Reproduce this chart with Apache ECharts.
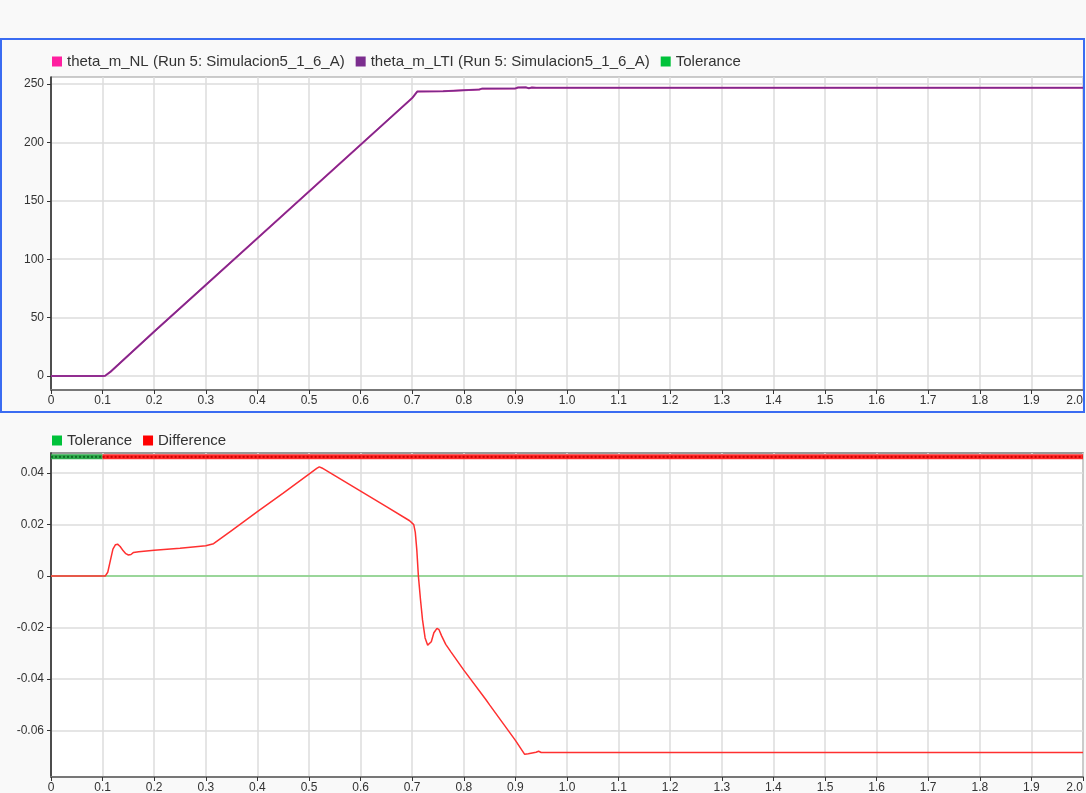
<!DOCTYPE html>
<html>
<head>
<meta charset="utf-8">
<script src="https://cdn.jsdelivr.net/npm/echarts@6/dist/echarts.min.js"></script>
<style>
  html, body { margin: 0; padding: 0; background: #f9f9f9; }
  #chart { width: 1086px; height: 793px; }
</style>
</head>
<body>
<div id="chart"></div>
<script>
// top panel: motor angle, non-linear vs LTI model
const nlName = 'theta_m_NL (Run 5: Simulacion5_1_6_A)'
const ltiName = 'theta_m_LTI (Run 5: Simulacion5_1_6_A)'
const thetaT = [0, 0.1, 0.105, 0.115, 0.2, 0.3, 0.4, 0.5, 0.6, 0.65, 0.7, 0.71, 0.76, 0.762, 0.83, 0.835, 0.9, 0.905, 0.92, 0.926, 0.932, 0.94, 2.0]
const thetaNL = [0, 0, 0.2, 3.5, 38, 78, 118, 158, 198, 218, 238, 243.6, 243.8, 245, 245.2, 246, 246.2, 247, 247.1, 246.3, 247, 246.8, 246.8]
const thetaLTI = [0, 0, 0.2, 3.49, 37.99, 77.99, 117.97, 157.96, 197.97, 217.97, 237.98, 243.6, 243.83, 245.03, 245.25, 246.05, 246.26, 247.07, 247.17, 246.37, 247.07, 246.87, 246.87]
const yTicksTop = [0, 50, 100, 150, 200, 250]

// bottom panel: difference NL - LTI
const diffT = [0, 0.1, 0.105, 0.11, 0.115, 0.12, 0.125, 0.129, 0.134, 0.14, 0.145, 0.15, 0.155, 0.16, 0.17, 0.2, 0.25, 0.3, 0.315, 0.35, 0.4, 0.45, 0.5, 0.515, 0.52, 0.525, 0.55, 0.6, 0.65, 0.695, 0.703, 0.706, 0.709, 0.712, 0.716, 0.72, 0.725, 0.73, 0.733, 0.737, 0.742, 0.748, 0.752, 0.757, 0.765, 0.775, 0.8, 0.843, 0.85, 0.9, 0.918, 0.925, 0.935, 0.94, 0.945, 0.95, 2.0]
const diffV = [0, 0, 0, 0.0015, 0.006, 0.0105, 0.0122, 0.0124, 0.0115, 0.0098, 0.0087, 0.0082, 0.0084, 0.0092, 0.0095, 0.0100, 0.0108, 0.0118, 0.0126, 0.0177, 0.025, 0.0322, 0.0396, 0.0418, 0.0424, 0.0420, 0.039, 0.033, 0.027, 0.0215, 0.0200, 0.017, 0.010, 0.0, -0.009, -0.017, -0.024, -0.0268, -0.0271, -0.0255, -0.022, -0.0203, -0.0208, -0.0232, -0.0265, -0.0294, -0.0365, -0.048, -0.050, -0.0638, -0.0692, -0.069, -0.0686, -0.0684, -0.0680, -0.0685, -0.0685]
const toleranceT = [0, 2.0]
const toleranceV = [0, 0]
const yTicksBottom = [-0.06, -0.04, -0.02, 0, 0.02, 0.04]

// pass/fail strip on top of the comparison plot
const statusLevel = 0.0463
const passT = [0, 0.1]
const failT = [0.1, 2.0]

const font = "'Liberation Sans', Arial, sans-serif"
const pairs = (xs, ys) => xs.map((x, i) => [x, ys[i]])

const chart = echarts.init(document.getElementById('chart'))

const xAxisBase = {
  type: 'value',
  min: 0,
  max: 2.0,
  interval: 0.1,
  axisLine: { show: true, onZero: false, lineStyle: { color: '#777', width: 2 } },
  axisTick: { show: true, length: 4, lineStyle: { color: '#333' } },
  axisLabel: {
    color: '#333', fontSize: 12, fontFamily: font, margin: 5,
    alignMaxLabel: 'right',
    formatter: v => (v === 0 ? '0' : v.toFixed(1))
  },
  splitLine: { show: true, lineStyle: { color: '#dcdcdc', width: 1.5 } }
}

const yAxisBase = {
  type: 'value',
  axisLine: { show: true, onZero: false, lineStyle: { color: '#222', width: 1.5 } },
  axisLabel: { color: '#333', fontSize: 12, fontFamily: font, margin: 7 },
  splitLine: { show: true, lineStyle: { color: '#dcdcdc', width: 1.5 } }
}

const legendText = { color: '#333', fontSize: 15, fontFamily: font }

chart.setOption({
  animation: false,
  backgroundColor: '#f9f9f9',
  graphic: [{
    type: 'rect',
    shape: { x: 1, y: 39, width: 1083, height: 373 },
    style: { fill: 'none', stroke: '#3b6cf2', lineWidth: 2 },
    z: 100
  }],
  legend: [
    {
      left: 47, top: 49,
      icon: 'rect', itemWidth: 10, itemHeight: 10, itemGap: 11,
      textStyle: legendText,
      data: [nlName, ltiName, 'Tolerance']
    },
    {
      left: 47, top: 428,
      icon: 'rect', itemWidth: 10, itemHeight: 10, itemGap: 11,
      textStyle: legendText,
      data: ['Tolerance', 'Difference']
    }
  ],
  grid: [
    { left: 51, top: 77, width: 1032, height: 313, outerBoundsMode: 'none', show: true, backgroundColor: '#fff', borderColor: '#999', borderWidth: 1 },
    { left: 51, top: 453, width: 1032, height: 324, outerBoundsMode: 'none', show: true, backgroundColor: '#fff', borderColor: '#777', borderWidth: 1.5 }
  ],
  xAxis: [
    Object.assign({ gridIndex: 0 }, xAxisBase),
    Object.assign({ gridIndex: 1 }, xAxisBase)
  ],
  yAxis: [
    Object.assign({}, yAxisBase, {
      gridIndex: 0, min: -12, max: 256,
      axisTick: { show: true, length: 4, lineStyle: { color: '#333' }, customValues: yTicksTop },
      axisLabel: Object.assign({}, yAxisBase.axisLabel, { customValues: yTicksTop })
    }),
    Object.assign({}, yAxisBase, {
      gridIndex: 1, min: -0.078, max: 0.0478,
      axisTick: { show: true, length: 4, lineStyle: { color: '#333' }, customValues: yTicksBottom },
      axisLabel: Object.assign({}, yAxisBase.axisLabel, {
        customValues: yTicksBottom,
        formatter: v => (Math.abs(v) < 1e-9 ? '0' : String(+v.toFixed(2)))
      })
    })
  ],
  series: [
    {
      name: nlName, type: 'line', xAxisIndex: 0, yAxisIndex: 0,
      data: pairs(thetaT, thetaNL), showSymbol: false,
      itemStyle: { color: '#ff1fa0' },
      lineStyle: { color: '#d23ca0', width: 2 }
    },
    {
      name: ltiName, type: 'line', xAxisIndex: 0, yAxisIndex: 0,
      data: pairs(thetaT, thetaLTI), showSymbol: false,
      itemStyle: { color: '#7b2d8e' },
      lineStyle: { color: '#7e2a8c', width: 1.5 }
    },
    {
      name: 'Tolerance', type: 'line', xAxisIndex: 1, yAxisIndex: 1,
      data: pairs(toleranceT, toleranceV), showSymbol: false,
      itemStyle: { color: '#00c23a' },
      lineStyle: { color: '#80d080', width: 1.5 }
    },
    {
      name: 'Difference', type: 'line', xAxisIndex: 1, yAxisIndex: 1,
      data: pairs(diffT, diffV), showSymbol: false,
      itemStyle: { color: '#ff0000' },
      lineStyle: { color: '#ff3030', width: 1.5 }
    },
    // status strip: pass (green) and fail (red)
    {
      type: 'line', xAxisIndex: 1, yAxisIndex: 1, silent: true,
      data: passT.map(x => [x, statusLevel]), showSymbol: false,
      lineStyle: { color: '#2ea84a', width: 5 }
    },
    {
      type: 'line', xAxisIndex: 1, yAxisIndex: 1, silent: true,
      data: passT.map(x => [x, statusLevel]), showSymbol: false,
      lineStyle: { color: '#0d6e25', width: 2, type: [2, 2] }
    },
    {
      type: 'line', xAxisIndex: 1, yAxisIndex: 1, silent: true,
      data: failT.map(x => [x, statusLevel]), showSymbol: false,
      lineStyle: { color: '#ff2a2a', width: 5 }
    },
    {
      type: 'line', xAxisIndex: 1, yAxisIndex: 1, silent: true,
      data: failT.map(x => [x, statusLevel]), showSymbol: false,
      lineStyle: { color: '#c80000', width: 2, type: [2, 2] }
    }
  ]
})
</script>
</body>
</html>
